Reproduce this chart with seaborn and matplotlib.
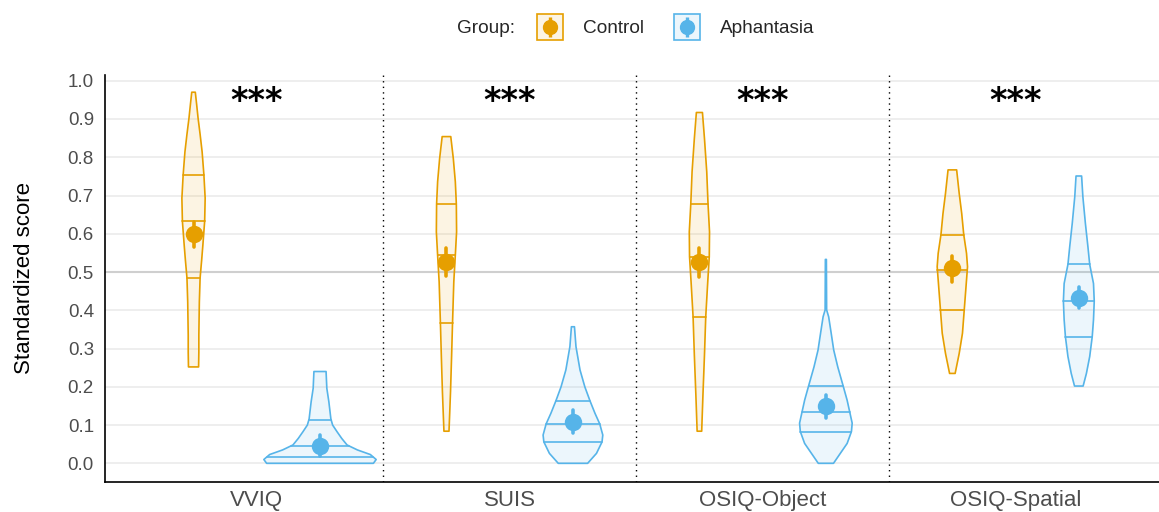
import numpy as np
import pandas as pd
import matplotlib.pyplot as plt
from matplotlib.lines import Line2D
import seaborn as sns

# DATA
tests = ["VVIQ", "SUIS", "OSIQ-Object", "OSIQ-Spatial"]
groups = ["Control", "Aphantasia"]
stars = ["***", "***", "***", "***"]

# violin outlines: (score, half width in category units), bottom to top
vviq_control = [(0.252, 0.020), (0.290, 0.021), (0.335, 0.021), (0.422, 0.023), (0.485, 0.026),
                (0.530, 0.032), (0.571, 0.037), (0.633, 0.044), (0.693, 0.046), (0.754, 0.041),
                (0.814, 0.034), (0.860, 0.026), (0.902, 0.018), (0.940, 0.012), (0.970, 0.007)]
vviq_aphantasia = [(0.000, 0.211), (0.010, 0.222), (0.023, 0.199), (0.035, 0.148), (0.048, 0.107),
                   (0.065, 0.086), (0.083, 0.067), (0.100, 0.050), (0.116, 0.043), (0.161, 0.035),
                   (0.196, 0.027), (0.240, 0.024)]
suis_control = [(0.084, 0.010), (0.118, 0.012), (0.187, 0.016), (0.274, 0.020), (0.368, 0.024),
                (0.475, 0.029), (0.544, 0.035), (0.605, 0.040), (0.678, 0.039), (0.736, 0.035),
                (0.797, 0.027), (0.854, 0.017)]
suis_aphantasia = [(0.000, 0.058), (0.026, 0.093), (0.056, 0.115), (0.074, 0.118), (0.103, 0.106),
                   (0.131, 0.087), (0.164, 0.067), (0.200, 0.047), (0.244, 0.028), (0.305, 0.012),
                   (0.357, 0.006)]
osiq_object_control = [(0.084, 0.009), (0.179, 0.014), (0.283, 0.020), (0.383, 0.025), (0.475, 0.033),
                       (0.540, 0.039), (0.605, 0.040), (0.679, 0.034), (0.762, 0.029), (0.849, 0.020),
                       (0.917, 0.012)]
osiq_object_aphantasia = [(0.000, 0.030), (0.026, 0.057), (0.052, 0.084), (0.083, 0.101), (0.105, 0.104),
                          (0.135, 0.094), (0.165, 0.084), (0.203, 0.068), (0.252, 0.047), (0.296, 0.031),
                          (0.340, 0.021), (0.383, 0.011), (0.401, 0.003), (0.533, 0.002)]
osiq_spatial_control = [(0.235, 0.011), (0.287, 0.027), (0.340, 0.040), (0.401, 0.047), (0.453, 0.053),
                        (0.514, 0.060), (0.549, 0.056), (0.598, 0.045), (0.653, 0.037), (0.706, 0.027),
                        (0.767, 0.017)]
osiq_spatial_aphantasia = [(0.202, 0.017), (0.235, 0.030), (0.279, 0.043), (0.331, 0.053), (0.375, 0.058),
                           (0.424, 0.061), (0.470, 0.058), (0.520, 0.043), (0.566, 0.036), (0.627, 0.026),
                           (0.697, 0.016), (0.751, 0.011)]

control_profiles = [vviq_control, suis_control, osiq_object_control, osiq_spatial_control]
aphantasia_profiles = [vviq_aphantasia, suis_aphantasia, osiq_object_aphantasia, osiq_spatial_aphantasia]

# quartile lines (25%, 50%, 75%)
control_quartiles = [[0.485, 0.633, 0.754], [0.368, 0.544, 0.678], [0.383, 0.540, 0.679], [0.401, 0.505, 0.598]]
aphantasia_quartiles = [[0.017, 0.045, 0.113], [0.056, 0.103, 0.164], [0.083, 0.135, 0.203], [0.331, 0.424, 0.520]]

# mean and its interval
control_mean = [0.599, 0.527, 0.525, 0.511]
control_low = [0.566, 0.490, 0.488, 0.475]
control_high = [0.632, 0.562, 0.564, 0.542]
aphantasia_mean = [0.046, 0.109, 0.151, 0.433]
aphantasia_low = [0.019, 0.080, 0.118, 0.405]
aphantasia_high = [0.074, 0.139, 0.178, 0.460]

colors = {"Control": "#E69F00", "Aphantasia": "#56B4E9"}
DODGE = 0.25

# STYLE
sns.set_theme(style="white")
plt.rcParams["font.family"] = ["Liberation Sans", "DejaVu Sans"]

fig = plt.figure(figsize=(11.59, 5.12), dpi=100)
ax = fig.add_axes([105 / 1159, 30.3 / 512, 1054 / 1159, 406.7 / 512])

# background grid
for y in np.arange(0, 1.01, 0.1):
    ax.axhline(y, color="#EBEBEB", lw=1.2, zorder=0)
ax.axhline(0.5, color="#CFCFCF", lw=1.5, zorder=0)
for x in [0.5, 1.5, 2.5]:
    ax.axvline(x, color="black", lw=1.0, linestyle=(0, (1, 3)), zorder=0)

# means with intervals through seaborn
rows = []
for g, means, lows, highs in [("Control", control_mean, control_low, control_high),
                              ("Aphantasia", aphantasia_mean, aphantasia_low, aphantasia_high)]:
    for t, m, lo, hi in zip(tests, means, lows, highs):
        for v in (lo, m, hi):
            rows.append({"test": t, "group": g, "score": v})
df = pd.DataFrame(rows)

sns.pointplot(
    data=df, x="test", y="score", hue="group",
    order=tests, hue_order=groups, palette=colors,
    estimator="median", errorbar=lambda v: (v.min(), v.max()),
    dodge=2 * DODGE, linestyle="none", markers="o", markersize=10.5,
    err_kws={"linewidth": 2.6}, legend=False, ax=ax, zorder=4,
)

# violins
for g, profiles, quarts, sign in [("Control", control_profiles, control_quartiles, -1),
                                  ("Aphantasia", aphantasia_profiles, aphantasia_quartiles, 1)]:
    c = colors[g]
    for i, prof in enumerate(profiles):
        ys = np.array([p[0] for p in prof])
        hw = np.array([p[1] for p in prof])
        xc = i + sign * DODGE
        ax.fill_betweenx(ys, xc - hw, xc + hw, facecolor=c, alpha=0.11, lw=0, zorder=2)
        ax.fill_betweenx(ys, xc - hw, xc + hw, facecolor="none", edgecolor=c, lw=1.2, zorder=3)
        for q in quarts[i]:
            w = np.interp(q, ys, hw)
            ax.plot([xc - w, xc + w], [q, q], color=c, lw=1.2, zorder=3)

# significance stars
for i, s in enumerate(stars):
    ax.text(i, 0.921, s, ha="center", va="baseline", fontsize=24, fontweight="bold",
            family="DejaVu Sans", color="black", zorder=5)

ax.set_xlim(-0.6, 3.567)
ax.set_ylim(-0.048, 1.015)
ax.set_yticks(np.arange(0, 1.01, 0.1))
ax.set_yticklabels([f"{v:.1f}" for v in np.arange(0, 1.01, 0.1)])
ax.set_xticks(range(len(tests)))
ax.set_xticklabels(tests)
ax.tick_params(axis="y", length=0, pad=8, labelsize=13.5, labelcolor="#4D4D4D")
ax.tick_params(axis="x", length=0, pad=6, labelsize=16, labelcolor="#4D4D4D")
ax.set_xlabel("")
ax.set_ylabel("Standardized score", fontsize=16, color="black")
ax.yaxis.set_label_coords(-0.066, 0.5)
ax.grid(False)

sns.despine(ax=ax)
for side in ["left", "bottom"]:
    ax.spines[side].set_color("black")
    ax.spines[side].set_linewidth(1.2)

# legend: box + error bar + point, all centred on the key
handles = []
for g in groups:
    c = colors[g]
    handles.append((
        Line2D([], [], marker="s", markersize=19, markerfacecolor=c + "1C",
               markeredgecolor=c, markeredgewidth=1.2, linestyle="none"),
        Line2D([], [], color=c, marker="|", markersize=14, markeredgewidth=2.4, linestyle="none"),
        Line2D([], [], color=c, marker="o", markersize=10, linestyle="none"),
    ))
fig.legend(handles, groups, loc="center", bbox_to_anchor=(676 / 1159, 1 - 28.5 / 512), ncol=2,
           frameon=False, fontsize=13.7, handlelength=1.3,
           handletextpad=1.1, columnspacing=1.6)
fig.text(515 / 1159, 1 - 26.5 / 512, "Group:", ha="right", va="center_baseline", fontsize=13.7)

fig.savefig("out.png", dpi=100)
